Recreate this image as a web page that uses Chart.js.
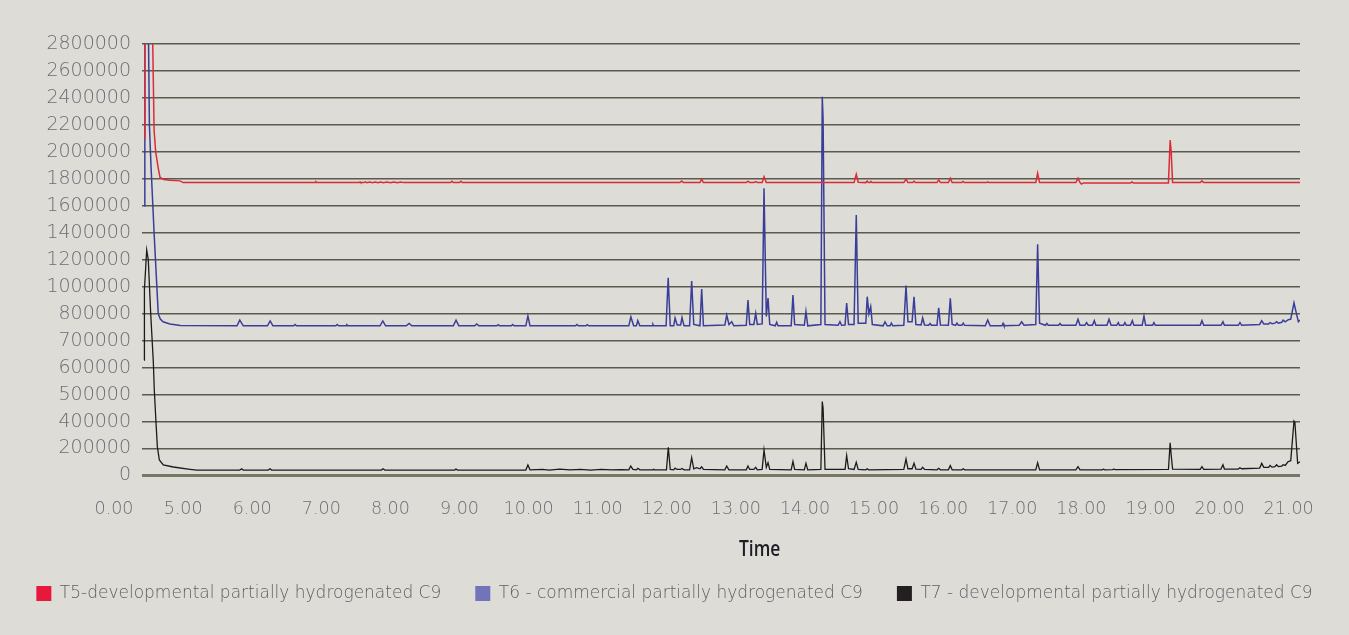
<!DOCTYPE html>
<html>
<head>
<meta charset="utf-8">
<script src="https://cdn.jsdelivr.net/npm/chart.js@4.4.1/dist/chart.umd.min.js"></script>
<style>
  html, body { margin: 0; padding: 0; background: #dddcd6; }
  #wrap { position: relative; width: 1349px; height: 635px; }
  #time {
    position: absolute; left: 739px; top: 536px;
    font: 600 21px/24px 'Open Sans', sans-serif;
    color: #1d1d28;
    transform: scaleX(0.83);
    transform-origin: left top;
  }
</style>
</head>
<body>
<div id="wrap">
  <canvas id="chart" width="1349" height="635"></canvas>
  <div id="time">Time</div>
</div>
<script>
// axis labels as printed on the chart (both axes are unevenly labelled)
const xTickValues = [4, 5, 6, 7, 8, 9, 10, 11, 12, 13, 14, 15, 16, 17, 18, 19, 20, 21];
const xTickLabels = ['0.00', '5.00', '6.00', '7.00', '8.00', '9.00', '10.00', '11.00', '12.00',
  '13.00', '14.00', '15.00', '16.00', '17.00', '18.00', '19.00', '20.00', '21.00'];
const yTickValues = [0, 200000, 400000, 500000, 600000, 700000, 800000, 1000000, 1200000,
  1400000, 1600000, 1800000, 2000000, 2200000, 2400000, 2600000, 2800000];
const yTickLabels = yTickValues.map(String);

const seriesNames = [
  'T5-developmental partially hydrogenated C9',
  'T6 - commercial partially hydrogenated C9',
  'T7 - developmental partially hydrogenated C9'
];
const lineColors = ['#dc2b36', '#3a3e98', '#1b1b1b'];
const legendColors = ['#e8173c', '#7373b9', '#231f20'];

// [time (min), signal]
const t5Trace = [
  [4.434, 2100000], [4.447, 3300000], [4.545, 3300000], [4.58, 2160000], [4.603, 2000000],
  [4.64, 1880000], [4.666, 1810000], [4.72, 1795000], [4.81, 1790000], [4.955, 1785000],
  [5.0, 1772000], [6.91, 1772000], [6.923, 1778000], [6.935, 1772000],
  [7.55, 1772000], [7.56, 1777000], [7.57, 1772000], [7.62, 1772000], [7.64, 1777000],
  [7.66, 1772000], [7.70, 1776000], [7.74, 1772000], [7.78, 1777000], [7.82, 1772000],
  [7.86, 1776000], [7.90, 1772000], [7.95, 1777000], [8.00, 1772000], [8.05, 1776000],
  [8.10, 1772000], [8.15, 1776000], [8.19, 1772000],
  [8.87, 1772000], [8.89, 1782000], [8.91, 1772000], [9.00, 1772000], [9.02, 1782000], [9.04, 1772000],
  [12.19, 1772000], [12.216, 1784000], [12.24, 1772000],
  [12.48, 1772000], [12.505, 1797000], [12.53, 1772000],
  [13.15, 1772000], [13.175, 1782000], [13.20, 1772000], [13.26, 1772000], [13.287, 1780000], [13.31, 1772000],
  [13.38, 1772000], [13.407, 1816000], [13.44, 1772000],
  [14.24, 1772000], [14.256, 1780000], [14.27, 1772000],
  [14.71, 1772000], [14.742, 1834000], [14.77, 1775000], [14.88, 1772000], [14.90, 1783000],
  [14.92, 1772000], [14.94, 1772000], [14.955, 1781000], [14.97, 1772000],
  [15.43, 1772000], [15.462, 1797000], [15.49, 1772000], [15.56, 1772000], [15.578, 1782000], [15.60, 1772000],
  [15.91, 1772000], [15.935, 1792000], [15.96, 1772000],
  [16.075, 1772000], [16.103, 1804000], [16.13, 1772000],
  [16.27, 1772000], [16.287, 1780000], [16.31, 1772000],
  [16.63, 1772000], [16.644, 1777000], [16.66, 1772000],
  [17.34, 1772000], [17.367, 1841000], [17.395, 1772000],
  [17.92, 1772000], [17.951, 1804000], [17.98, 1772000], [18.00, 1762000], [18.03, 1770000],
  [18.71, 1770000], [18.732, 1777000], [18.75, 1770000],
  [19.26, 1770000], [19.285, 2088000], [19.30, 2000000], [19.32, 1772000],
  [19.72, 1772000], [19.745, 1785000], [19.77, 1772000], [21.164, 1772000]
];

const t6Trace = [
  [4.434, 1600000], [4.446, 3300000], [4.49, 3300000], [4.512, 2200000], [4.535, 1900000],
  [4.562, 1600000], [4.58, 1400000], [4.60, 1200000], [4.62, 1000000], [4.64, 800000],
  [4.67, 780000], [4.71, 770000], [4.81, 762000], [4.96, 756000],
  [5.78, 755000], [5.82, 776000], [5.87, 755000],
  [6.22, 755000], [6.26, 773000], [6.30, 755000],
  [6.60, 755000], [6.62, 760000], [6.64, 755000],
  [7.21, 755000], [7.23, 760000], [7.25, 755000],
  [7.36, 755000], [7.37, 759000], [7.39, 755000],
  [7.85, 755000], [7.89, 773000], [7.93, 755000],
  [8.23, 755000], [8.27, 764000], [8.31, 755000],
  [8.91, 755000], [8.95, 776000], [8.99, 755000],
  [9.22, 755000], [9.25, 762000], [9.28, 755000],
  [9.54, 755000], [9.56, 759000], [9.58, 755000],
  [9.75, 755000], [9.77, 760000], [9.79, 755000],
  [9.96, 755000], [9.99, 792000], [10.02, 755000],
  [10.68, 755000], [10.70, 760000], [10.72, 755000],
  [10.83, 755000], [10.85, 759000], [10.87, 755000],
  [11.45, 755000], [11.48, 788000], [11.52, 755000], [11.56, 755000], [11.58, 774000], [11.61, 755000],
  [11.79, 755000], [11.80, 760000], [11.81, 755000],
  [11.99, 755000], [12.02, 1067000], [12.05, 755000],
  [12.10, 755000], [12.12, 784000], [12.15, 758000], [12.20, 758000], [12.22, 786000], [12.25, 755000],
  [12.33, 755000], [12.36, 1042000], [12.39, 760000],
  [12.48, 755000], [12.505, 983000], [12.53, 755000],
  [12.84, 758000], [12.867, 795000], [12.90, 760000], [12.94, 770000], [12.97, 755000],
  [13.15, 757000], [13.175, 901000], [13.20, 760000], [13.26, 760000], [13.287, 802000], [13.31, 760000],
  [13.38, 762000], [13.407, 1730000], [13.44, 790000], [13.465, 916000], [13.49, 760000],
  [13.57, 755000], [13.59, 768000], [13.61, 755000],
  [13.80, 755000], [13.826, 939000], [13.85, 760000],
  [13.99, 757000], [14.014, 815000], [14.04, 755000],
  [14.23, 760000], [14.25, 2409000], [14.262, 2244000], [14.29, 760000],
  [14.48, 757000], [14.506, 770000], [14.53, 757000],
  [14.58, 758000], [14.603, 879000], [14.63, 760000],
  [14.71, 760000], [14.742, 1532000], [14.77, 765000],
  [14.88, 765000], [14.901, 926000], [14.925, 800000], [14.951, 852000], [14.975, 760000],
  [15.13, 755000], [15.158, 770000], [15.19, 755000], [15.23, 755000], [15.25, 765000], [15.27, 755000],
  [15.43, 757000], [15.462, 1008000], [15.49, 770000], [15.55, 770000], [15.578, 926000], [15.605, 760000],
  [15.68, 758000], [15.703, 784000], [15.73, 758000], [15.79, 757000], [15.81, 764000], [15.83, 757000],
  [15.91, 757000], [15.935, 844000], [15.96, 758000],
  [16.075, 757000], [16.103, 914000], [16.13, 760000],
  [16.18, 757000], [16.20, 765000], [16.22, 757000], [16.27, 757000], [16.29, 765000], [16.31, 757000],
  [16.61, 755000], [16.644, 777000], [16.68, 755000],
  [16.85, 755000], [16.866, 764000], [16.88, 755000],
  [17.10, 757000], [17.136, 770000], [17.17, 757000],
  [17.34, 760000], [17.367, 1315000], [17.395, 765000],
  [17.48, 757000], [17.50, 764000], [17.52, 757000], [17.67, 757000], [17.69, 764000], [17.71, 757000],
  [17.92, 757000], [17.951, 779000], [17.98, 757000],
  [18.05, 757000], [18.077, 767000], [18.10, 757000], [18.16, 757000], [18.187, 774000], [18.21, 757000],
  [18.37, 757000], [18.40, 779000], [18.43, 757000], [18.51, 757000], [18.534, 767000], [18.55, 757000],
  [18.61, 757000], [18.63, 767000], [18.65, 757000], [18.71, 757000], [18.737, 774000], [18.76, 757000],
  [18.88, 757000], [18.906, 791000], [18.93, 757000], [19.03, 757000], [19.05, 767000], [19.07, 757000],
  [19.72, 757000], [19.745, 774000], [19.77, 757000],
  [20.02, 757000], [20.049, 770000], [20.07, 757000],
  [20.27, 757000], [20.295, 767000], [20.32, 757000],
  [20.58, 760000], [20.61, 774000], [20.64, 762000], [20.71, 762000], [20.73, 767000], [20.76, 763000],
  [20.80, 765000], [20.826, 770000], [20.85, 765000], [20.90, 768000], [20.92, 776000], [20.95, 770000],
  [20.99, 777000], [21.03, 780000], [21.077, 881000], [21.10, 828000], [21.14, 770000], [21.164, 777000]
];

const t7Trace = [
  [4.434, 628000], [4.44, 980000], [4.473, 1272000], [4.496, 1200000], [4.531, 800000],
  [4.569, 620000], [4.583, 517000], [4.608, 389000], [4.627, 214000], [4.656, 115000],
  [4.713, 78000], [4.858, 63000], [5.10, 46000], [5.20, 40000],
  [5.82, 40000], [5.848, 50000], [5.87, 40000],
  [6.23, 40000], [6.258, 50000], [6.28, 40000],
  [7.87, 40000], [7.893, 50000], [7.92, 40000],
  [8.93, 40000], [8.949, 48000], [8.97, 40000],
  [9.96, 40000], [9.99, 78000], [10.02, 42000],
  [10.20, 45000], [10.30, 40000], [10.45, 47000], [10.60, 41000], [10.75, 46000], [10.90, 40000],
  [11.05, 45000], [11.20, 41000], [11.35, 44000],
  [11.45, 42000], [11.478, 70000], [11.51, 45000], [11.56, 42000], [11.583, 53000], [11.61, 42000],
  [11.80, 42000], [11.81, 46000], [11.82, 42000],
  [11.995, 42000], [12.022, 209000], [12.05, 45000],
  [12.10, 42000], [12.12, 55000], [12.15, 45000], [12.20, 45000], [12.22, 52000], [12.25, 42000],
  [12.33, 42000], [12.36, 132000], [12.39, 50000], [12.43, 58000], [12.48, 50000], [12.505, 65000], [12.53, 45000],
  [12.84, 42000], [12.867, 70000], [12.90, 42000],
  [13.15, 42000], [13.175, 70000], [13.20, 45000], [13.26, 45000], [13.287, 60000], [13.31, 42000],
  [13.38, 45000], [13.407, 189000], [13.44, 60000], [13.465, 95000], [13.49, 45000],
  [13.80, 42000], [13.826, 105000], [13.85, 45000],
  [13.99, 42000], [14.014, 90000], [14.04, 42000],
  [14.23, 45000], [14.25, 474000], [14.262, 450000], [14.29, 45000],
  [14.58, 45000], [14.603, 147000], [14.63, 50000],
  [14.71, 45000], [14.742, 98000], [14.77, 45000],
  [14.88, 42000], [14.90, 50000], [14.92, 42000],
  [15.43, 45000], [15.462, 122000], [15.49, 50000], [15.55, 50000], [15.578, 90000], [15.605, 48000],
  [15.68, 45000], [15.703, 61000], [15.73, 45000],
  [15.91, 42000], [15.935, 53000], [15.96, 42000],
  [16.075, 42000], [16.103, 73000], [16.13, 42000],
  [16.27, 42000], [16.29, 50000], [16.31, 42000],
  [17.34, 42000], [17.367, 95000], [17.395, 42000],
  [17.92, 42000], [17.951, 65000], [17.98, 42000],
  [18.30, 42000], [18.32, 47000], [18.34, 42000], [18.45, 43000], [18.47, 47000], [18.49, 43000],
  [19.26, 45000], [19.285, 243000], [19.30, 150000], [19.32, 48000],
  [19.72, 45000], [19.745, 65000], [19.77, 45000],
  [20.02, 48000], [20.049, 80000], [20.07, 48000],
  [20.27, 48000], [20.295, 58000], [20.32, 50000],
  [20.58, 55000], [20.61, 90000], [20.64, 60000], [20.71, 60000], [20.73, 75000], [20.76, 62000],
  [20.80, 65000], [20.826, 80000], [20.85, 66000], [20.90, 70000], [20.92, 80000], [20.95, 75000],
  [20.99, 102000], [21.03, 110000], [21.077, 402000], [21.09, 395000], [21.13, 90000], [21.164, 102000]
];

// the gridlines are evenly spaced although the labels are not,
// so values are placed by interpolating between the printed ticks
function toGrid(v) {
  const last = yTickValues.length - 1;
  if (v >= yTickValues[last]) {
    return last + (v - yTickValues[last]) / (yTickValues[last] - yTickValues[last - 1]);
  }
  let i = 0;
  while (v > yTickValues[i + 1]) i++;
  return i + (v - yTickValues[i]) / (yTickValues[i + 1] - yTickValues[i]);
}

const traces = [t5Trace, t6Trace, t7Trace];
const tickFont = { family: 'DejaVu Sans', size: 19, weight: '200' };

new Chart(document.getElementById('chart'), {
  type: 'line',
  data: {
    datasets: traces.map((tr, i) => ({
      label: seriesNames[i],
      data: tr.map(p => ({ x: p[0], y: toGrid(p[1]) })),
      borderColor: lineColors[i],
      backgroundColor: legendColors[i],
      borderWidth: i === 2 ? 1.3 : 1.5,
      pointRadius: 0,
      tension: 0,
      fill: false
    }))
  },
  options: {
    responsive: false,
    animation: false,
    events: [],
    layout: { padding: { left: 0, right: 0, top: 44, bottom: 23 } },
    scales: {
      x: {
        type: 'linear',
        min: 4.405,
        max: 21.164,
        afterBuildTicks: s => { s.ticks = xTickValues.map(v => ({ value: v })); },
        afterFit: s => { s.height = 75.5; },
        grid: { display: false },
        border: { display: false },
        ticks: {
          autoSkip: false,
          maxRotation: 0,
          padding: 15,
          color: '#6f6d75',
          font: { family: 'DejaVu Sans', size: 17.5, weight: '200' },
          callback: (v, i) => xTickLabels[i]
        }
      },
      y: {
        type: 'linear',
        min: 0,
        max: 16,
        afterBuildTicks: s => { s.ticks = yTickLabels.map((l, i) => ({ value: i })); },
        afterFit: s => { s.width = 142; },
        border: { display: false },
        grid: {
          drawTicks: false,
          color: c => c.index === 0 ? '#7a7664' : '#5c5a4c',
          lineWidth: c => c.index === 0 ? 3 : 1.6
        },
        ticks: {
          padding: 11,
          color: '#6f6d75',
          font: tickFont,
          callback: (v, i) => yTickLabels[i]
        }
      },
      yRight: {
        position: 'right',
        display: true,
        min: 0,
        max: 16,
        grid: { display: false },
        border: { display: false },
        ticks: { display: false },
        afterFit: s => { s.width = 49; }
      }
    },
    plugins: {
      tooltip: { enabled: false },
      legend: {
        position: 'bottom',
        labels: {
          boxWidth: 15,
          boxHeight: 15,
          padding: 34,
          color: '#606066',
          font: { family: 'DejaVu Sans', size: 17, weight: '200' },
          generateLabels: chart => chart.data.datasets.map((d, i) => ({
            text: d.label,
            fillStyle: legendColors[i],
            strokeStyle: legendColors[i],
            lineWidth: 0,
            hidden: false,
            datasetIndex: i,
            fontColor: '#606066'
          }))
        }
      }
    }
  }
});
</script>
</body>
</html>
